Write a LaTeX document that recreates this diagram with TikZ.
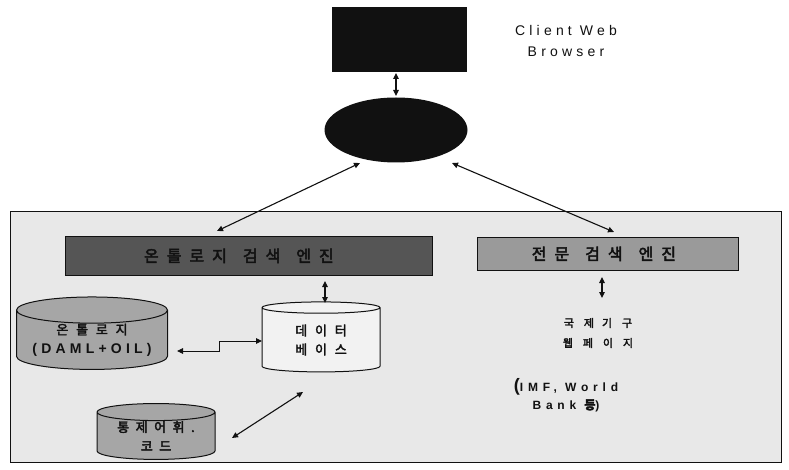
\documentclass[tikz,border=0pt]{standalone}
\usepackage{fontspec}
\usetikzlibrary{arrows.meta,shapes.geometric}
\newfontfamily\krb[LetterSpace=50,FakeBold=3]{Noto Sans CJK KR}
\newfontfamily\krs[LetterSpace=60,FakeBold=2.5]{Noto Sans CJK KR}
\newfontfamily\krw[LetterSpace=90,FakeBold=2.5]{Noto Sans CJK KR}
\newfontfamily\lat[LetterSpace=30]{Liberation Sans}
\newfontfamily\latb[LetterSpace=40]{Liberation Sans}
\newfontfamily\latd[LetterSpace=30]{Liberation Sans}
\newcommand\wgap{\kern 16pt}
\definecolor{panel}{HTML}{E8E8E8}
\definecolor{darkbar}{HTML}{555555}
\definecolor{midbar}{HTML}{9A9A9A}
\definecolor{drum}{HTML}{A6A6A6}
\definecolor{dbfill}{HTML}{F2F2F2}
\definecolor{ink}{HTML}{111111}
\tikzset{
  dbl/.style={{Triangle[length=6pt,width=5.5pt]}-{Triangle[length=6pt,width=5.5pt]}, line width=1.1pt, ink},
  bar/.style={draw=ink, line width=0.8pt, anchor=north west, inner sep=0pt},
  drumshape/.style={cylinder, shape border rotate=90, aspect=0.22, draw=ink, line width=1pt,
    cylinder uses custom fill, inner sep=0pt, align=center},
  krtext/.style={font=\krs\fontsize{13}{19}\selectfont, text=ink, align=center},
  bartext/.style={font=\krb\fontsize{16}{18}\selectfont, text=ink},
}
\begin{document}
\begin{tikzpicture}[x=1pt,y=-1pt]
\useasboundingbox (0,0) rectangle (789,470);
\fill[white] (0,0) rectangle (789,470);

% lower panel
\node[draw=ink, line width=0.9pt, fill=panel, anchor=north west, minimum width=771, minimum height=251, inner sep=0pt] (panel) at (10,211) {};

% browser and web server
\node[fill=ink, anchor=north west, minimum width=135, minimum height=65, inner sep=0pt] (browser) at (332,7) {};
\node[font=\lat\fontsize{14}{21}\selectfont, align=center, text=ink] (browsertxt) at (566,41) {Client Web\\Browser};
\node[ellipse, fill=ink, minimum width=143, minimum height=65, inner sep=0pt] (server) at (396,130) {};

% search engines
\node[bar, fill=darkbar, minimum width=367, minimum height=39] (onteng) at (65,236) {};
\node[bartext] at ([xshift=-10]onteng.center) {온톨로지\wgap{}검색\wgap{}엔진};
\node[bar, fill=midbar, minimum width=261, minimum height=33] (fulleng) at (477,237) {};
\node[bartext] at ([xshift=-4]fulleng.center) {전문\wgap{}검색\wgap{}엔진};

% stores
\node[drumshape, cylinder body fill=drum, cylinder end fill=drum, minimum width=151, minimum height=62, krtext] (ontology) at (92,340) {온톨로지\\{\latd\bfseries\fontsize{14}{16}\selectfont (DAML+OIL)}};
\node[drumshape, cylinder body fill=dbfill, cylinder end fill=dbfill, minimum width=118, minimum height=70, krtext] (db) at (321,340) {데이터\\베이스};
\node[drumshape, cylinder body fill=drum, cylinder end fill=drum, minimum width=118, minimum height=55, krtext, font=\krb\fontsize{13}{19}\selectfont] (vocab) at (156,436) {통제어휘.\\코드};

% international organisation pages
\node[font=\krw\fontsize{11}{20}\selectfont, text=ink, align=center] (intl) at (598,333) {국제\kern 8pt{}기구\\웹페이지};
\node[font=\latb\bfseries\fontsize{12}{18}\selectfont, text=ink, align=center] (imf) at (566,395) {{\fontsize{18}{17}\selectfont(}IMF, World\\Bank {\krs 등})};

% connectors
\coordinate (bu) at (396,73);
\coordinate (bd) at (396,96);
\draw[dbl] (bu) -- (bd);
\coordinate (sl) at (360,163);
\coordinate (sr) at (452,163);
\coordinate (ol) at (217,231);
\coordinate (fr) at (614,232);
\draw[dbl] (sl) -- (ol);
\draw[dbl] (sr) -- (fr);
\coordinate (ou) at (325,281);
\coordinate (od) at (325,303);
\draw[dbl] (ou) -- (od);
\coordinate (fu) at (602,277);
\coordinate (fd) at (602,298);
\draw[dbl] (fu) -- (fd);
\coordinate (dbl) at (262,341);
\coordinate (ontr) at (177,351);
\draw[dbl, line width=0.9pt] (ontr) -- (219,351) -- (219,341) -- (dbl);
\coordinate (dbs) at (303,392);
\coordinate (vr) at (232,438);
\draw[dbl] (dbs) -- (vr);
\end{tikzpicture}
\end{document}
